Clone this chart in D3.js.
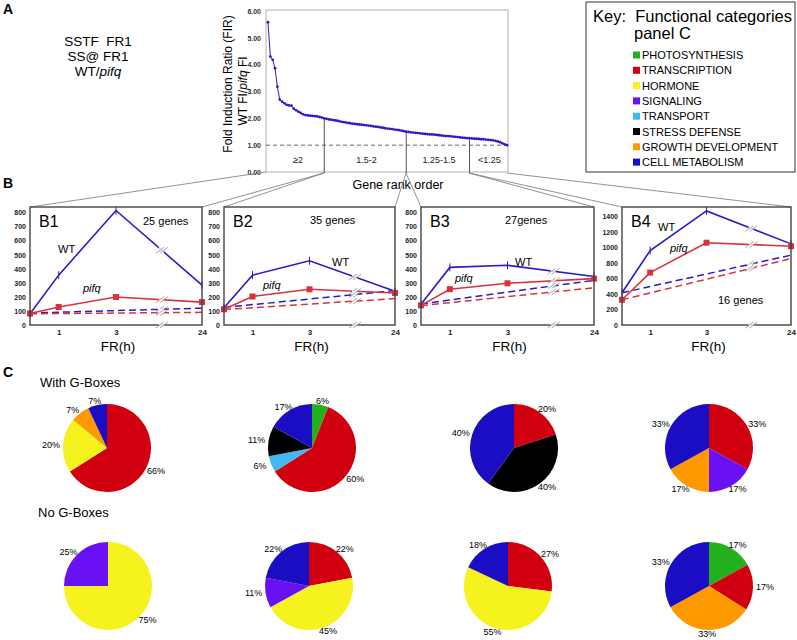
<!DOCTYPE html>
<html><head><meta charset="utf-8">
<script src="https://cdn.jsdelivr.net/npm/d3@7"></script>
<style>body{margin:0;background:#fff;} svg{font-family:Arial,"Liberation Sans",Helvetica,sans-serif;}</style>
</head><body><svg id="c" width="797" height="640"></svg>
<script>
// ---------- DATA ----------
// Panel A: fold induction ratio per gene (rank order), grouped by bin
const rankBins = ["≥2", "1.5-2", "1.25-1.5", "<1.25"];
const firBin1 = [5.58,4.30,4.18,3.87,3.18,2.70,2.62,2.56,2.50,2.48,2.47,2.36,2.30,2.25,2.20,2.15,2.12,2.11,2.10,2.09,2.08,2.07,2.05,2.03,2.00];
const firBin2 = [1.98,1.96,1.95,1.93,1.92,1.90,1.88,1.86,1.85,1.83,1.82,1.80,1.79,1.78,1.77,1.76,1.75,1.74,1.73,1.72,1.70,1.69,1.68,1.66,1.65,1.63,1.62,1.61,1.60,1.58,1.57,1.56,1.54,1.52,1.50];
const firBin3 = [1.49,1.48,1.47,1.46,1.45,1.44,1.43,1.42,1.41,1.40,1.40,1.39,1.38,1.37,1.36,1.35,1.34,1.34,1.33,1.32,1.31,1.30,1.29,1.28,1.27,1.26,1.26];
const firBin4 = [1.25,1.24,1.24,1.23,1.22,1.22,1.21,1.20,1.19,1.18,1.16,1.14,1.11,1.07,1.03,1.00];
const firTicks = [0,1,2,3,4,5,6];

// Panel B: expression over FR time
const timeLabels = ["0","1","3","24"];
const panelNames = ["B1","B2","B3","B4"];
const geneCounts = ["25 genes","35 genes","27genes","16 genes"];
const wtB1 = [80,355,815,284],  pifqB1 = [82,128,199,163],  wtDarkB1 = [85,120],  pifqDarkB1 = [80,90];
const wtB2 = [123,355,457,240], pifqB2 = [112,203,254,228], wtDarkB2 = [125,245], pifqDarkB2 = [110,188];
const wtB3 = [148,410,425,345], pifqB3 = [140,255,297,330], wtDarkB3 = [150,318], pifqDarkB3 = [138,265];
const wtB4 = [415,960,1470,1045], pifqB4 = [325,675,1060,1015], wtDarkB4 = [415,900], pifqDarkB4 = [325,855];
const yTicksSmall = [0,100,200,300,400,500,600,700,800];
const yTicksLarge = [0,200,400,600,800,1000,1200,1400];

// Panel C: functional categories
const categories = ["PHOTOSYNTHESIS","TRANSCRIPTION","HORMONE","SIGNALING","TRANSPORT","STRESS DEFENSE","GROWTH DEVELOPMENT","CELL METABOLISM"];
const withG1 = [["TRANSCRIPTION",66],["HORMONE",20],["GROWTH DEVELOPMENT",7],["CELL METABOLISM",7]];
const withG2 = [["PHOTOSYNTHESIS",6],["TRANSCRIPTION",60],["TRANSPORT",6],["STRESS DEFENSE",11],["CELL METABOLISM",17]];
const withG3 = [["TRANSCRIPTION",20],["STRESS DEFENSE",40],["CELL METABOLISM",40]];
const withG4 = [["TRANSCRIPTION",33],["SIGNALING",17],["GROWTH DEVELOPMENT",17],["CELL METABOLISM",33]];
const noG1 = [["HORMONE",75],["SIGNALING",25]];
const noG2 = [["TRANSCRIPTION",22],["HORMONE",45],["SIGNALING",11],["CELL METABOLISM",22]];
const noG3 = [["TRANSCRIPTION",27],["HORMONE",55],["CELL METABOLISM",18]];
const noG4 = [["PHOTOSYNTHESIS",17],["TRANSCRIPTION",17],["GROWTH DEVELOPMENT",33],["CELL METABOLISM",33]];

// ---------- STYLE ----------
const palette = ["#22b01e","#d00010","#f6f21e","#6a10f5","#40b8f0","#000000","#ff9900","#1a0dc4"];
const color = d3.scaleOrdinal().domain(categories).range(palette);
const BLUE = "#2a1bc6", RED = "#d8323f";

const svg = d3.select("#c");

// ---------- Panel letters & left text ----------
svg.append("text").attr("x",3).attr("y",14).attr("font-size",14).attr("font-weight","bold").text("A");
svg.append("text").attr("x",3).attr("y",188).attr("font-size",14).attr("font-weight","bold").text("B");
svg.append("text").attr("x",3).attr("y",377).attr("font-size",14).attr("font-weight","bold").text("C");

const lt = svg.append("g").attr("font-size",13.5).attr("text-anchor","middle");
lt.append("text").attr("x",98).attr("y",46).style("white-space","pre").text("SSTF  FR1");
lt.append("text").attr("x",98).attr("y",61).text("SS@ FR1");
const wtp = lt.append("text").attr("x",98).attr("y",76);
wtp.append("tspan").text("WT/");
wtp.append("tspan").attr("font-style","italic").text("pifq");

// ---------- Panel A chart ----------
const firValues = [].concat(firBin1, firBin2, firBin3, firBin4);
const bins = [firBin1, firBin2, firBin3, firBin4];
const ax = d3.scaleLinear().domain([1, firValues.length]).range([268, 507]);
const ay = d3.scaleLinear().domain([0, 6]).range([172, 11]);
const A = svg.append("g");
A.append("rect").attr("x",266).attr("y",10).attr("width",242).attr("height",162)
  .attr("fill","none").attr("stroke","#b0b0b0").attr("stroke-width",1);
const ayAxis = A.append("g").attr("transform","translate(263,0)")
  .call(d3.axisLeft(ay).tickValues(firTicks).tickFormat(d3.format(".2f")).tickSize(0).tickPadding(2));
ayAxis.select(".domain").remove();
ayAxis.selectAll("text").attr("font-size",7).attr("font-weight","bold").attr("fill","#333").attr("font-family","Arial");

A.append("line").attr("x1",266).attr("x2",508).attr("y1",ay(1)).attr("y2",ay(1))
  .attr("stroke","#555").attr("stroke-dasharray","4,3").attr("stroke-width",0.9);

// boundaries
let cum = 0; const bounds = [];
bins.forEach((b,i)=>{ const start = cum+1; cum += b.length; bounds.push({start, end:cum, label:rankBins[i]}); });
bounds.slice(0,3).forEach(b=>{
  A.append("line").attr("x1",ax(b.end)).attr("x2",ax(b.end)).attr("y1",ay(firValues[b.end-1])).attr("y2",173)
    .attr("stroke","#555").attr("stroke-width",1);
});
bounds.forEach(b=>{
  A.append("text").attr("x",(ax(b.start)+ax(b.end))/2 + (b.label==="≥2"?2:0)).attr("y",163).attr("text-anchor","middle")
    .attr("font-size",9).attr("fill","#222").text(b.label);
});
A.append("path").datum(firValues).attr("fill","none").attr("stroke",BLUE).attr("stroke-width",1)
  .attr("d", d3.line().x((d,i)=>ax(i+1)).y(d=>ay(d)));
A.selectAll("circle.p").data(firValues).join("circle").attr("class","p")
  .attr("cx",(d,i)=>ax(i+1)).attr("cy",d=>ay(d)).attr("r",1.4).attr("fill",BLUE);

const yt = A.append("g").attr("font-size",12).attr("text-anchor","middle");
yt.append("text").attr("transform","translate(232,84) rotate(-90)").text("Fold Induction Ratio (FIR)");
const yt2 = yt.append("text").attr("transform","translate(247,91) rotate(-90)");
yt2.append("tspan").text("WT FI/");
yt2.append("tspan").attr("font-style","italic").text("pifq");
yt2.append("tspan").text(" FI");
A.append("text").attr("x",398).attr("y",189).attr("text-anchor","middle").attr("font-size",12.5).text("Gene rank order");

// ---------- Key ----------
const K = svg.append("g");
K.append("rect").attr("x",586).attr("y",2).attr("width",209).attr("height",170).attr("fill","none").attr("stroke","#333").attr("stroke-width",1);
K.append("text").attr("x",593).attr("y",22).attr("font-size",16.5).style("white-space","pre").text("Key:  Functional categories");
K.append("text").attr("x",634).attr("y",39).attr("font-size",16.5).text("panel C");
categories.forEach((c,i)=>{
  const yy = 55 + i*15.3;
  K.append("rect").attr("x",633).attr("y",yy-3.5).attr("width",7).attr("height",7).attr("fill",color(c));
  K.append("text").attr("x",642).attr("y",yy+4).attr("font-size",11).text(c);
});

// ---------- Connector lines A -> B ----------
const conn = [[30,207,266,172],[202,207,324,173],[224,207,324,173],[395,207,406,173],[421,207,406,173],[594,207,469,173],[622,207,469,173],[791,207,507,173]];
svg.append("g").selectAll("line").data(conn).join("line")
  .attr("x1",d=>d[0]).attr("y1",d=>d[1]).attr("x2",d=>d[2]).attr("y2",d=>d[3])
  .attr("stroke","#777").attr("stroke-width",0.8);

// ---------- Panel B ----------
const timePos = [0,1,3,6];
const breakPos = 4.6;
const panelLayout = [
  {x0:30, x1:202, ymax:840, ticks:yTicksSmall, wt:wtB1, pq:pifqB1, wd:wtDarkB1, pd:pifqDarkB1, wtL:[58,253], pqL:[83,292], gL:[143,225]},
  {x0:224,x1:395, ymax:840, ticks:yTicksSmall, wt:wtB2, pq:pifqB2, wd:wtDarkB2, pd:pifqDarkB2, wtL:[332,266], pqL:[263,289], gL:[310,224]},
  {x0:421,x1:594, ymax:840, ticks:yTicksSmall, wt:wtB3, pq:pifqB3, wd:wtDarkB3, pd:pifqDarkB3, wtL:[515,266], pqL:[455,282], gL:[505,224]},
  {x0:622,x1:791, ymax:1520,ticks:yTicksLarge, wt:wtB4, pq:pifqB4, wd:wtDarkB4, pd:pifqDarkB4, wtL:[658,231], pqL:[670,252], gL:[718,304]}
];
function breakMark(g, cx, cy){
  g.append("rect").attr("x",cx-3).attr("y",cy-3.5).attr("width",5).attr("height",7).attr("fill","#fff").attr("opacity",0.85);
  [-2,2].forEach(o=>{
    g.append("line").attr("x1",cx+o-4).attr("y1",cy+3).attr("x2",cx+o+4).attr("y2",cy-3)
      .attr("stroke","#999").attr("stroke-width",0.9);
  });
}
panelLayout.forEach((p,pi)=>{
  const g = svg.append("g");
  const x = d3.scaleLinear().domain([0,6]).range([p.x0,p.x1]);
  const y = d3.scaleLinear().domain([0,p.ymax]).range([325,207]);
  // axis labels
  const ya = g.append("g").attr("transform",`translate(${p.x0-2},0)`)
    .call(d3.axisLeft(y).tickValues(p.ticks).tickFormat(d3.format("d")).tickSize(0).tickPadding(2));
  ya.select(".domain").remove();
  ya.selectAll("text").attr("font-size",7).attr("font-weight","bold").attr("fill","#222").attr("font-family","Arial");
  const xa = g.append("g").attr("transform","translate(0,325)")
    .call(d3.axisBottom(x).tickValues(timePos.slice(1)).tickFormat((d,i)=>timeLabels[i+1]).tickSize(0).tickPadding(4));
  xa.select(".domain").remove();
  xa.selectAll("text").attr("font-size",8).attr("font-weight","bold").attr("fill","#222").attr("font-family","Arial");
  g.append("text").attr("x",x(3)+2).attr("y",351).attr("text-anchor","middle").attr("font-size",13.5).text("FR(h)");

  // dashed dark controls
  const dl = d3.line().x(d=>x(d[0])).y(d=>y(d[1]));
  [[p.wd,BLUE],[p.pd,RED]].forEach(([v,c])=>{
    g.append("path").datum([[0,v[0]],[6,v[1]]]).attr("d",dl).attr("fill","none")
      .attr("stroke",c).attr("stroke-width",1.5).attr("stroke-dasharray","7,4");
  });
  // solid lines
  const sl = d3.line().x((d,i)=>x(timePos[i])).y(d=>y(d));
  g.append("path").datum(p.pq).attr("d",sl).attr("fill","none").attr("stroke",RED).attr("stroke-width",1.6);
  g.append("path").datum(p.wt).attr("d",sl).attr("fill","none").attr("stroke",BLUE).attr("stroke-width",1.6);
  g.selectAll("rect.sq").data(p.pq).join("rect").attr("class","sq")
    .attr("x",(d,i)=>x(timePos[i])-3).attr("y",d=>y(d)-3).attr("width",6).attr("height",6).attr("fill",RED);
  g.selectAll("line.tk").data(p.wt).join("line").attr("class","tk")
    .attr("x1",(d,i)=>x(timePos[i])).attr("x2",(d,i)=>x(timePos[i]))
    .attr("y1",d=>y(d)-4).attr("y2",d=>y(d)+4).attr("stroke",BLUE).attr("stroke-width",1);

  // break marks
  const f = (breakPos-3)/3;
  [p.wt, p.pq].forEach(v=> breakMark(g, x(breakPos), y(v[2] + (v[3]-v[2])*f)));
  [p.wd, p.pd].forEach(v=> breakMark(g, x(breakPos), y(v[0] + (v[1]-v[0])*breakPos/6)));
  // box
  g.append("rect").attr("x",p.x0).attr("y",207).attr("width",p.x1-p.x0).attr("height",118)
    .attr("fill","none").attr("stroke","#444").attr("stroke-width",1.4);
  breakMark(g, x(breakPos), 325);

  // labels
  g.append("text").attr("x",p.x0+9).attr("y",227).attr("font-size",16).text(panelNames[pi]);
  g.append("text").attr("x",p.gL[0]).attr("y",p.gL[1]).attr("font-size",11).text(geneCounts[pi]);
  g.append("text").attr("x",p.wtL[0]).attr("y",p.wtL[1]).attr("font-size",11).text("WT");
  g.append("text").attr("x",p.pqL[0]).attr("y",p.pqL[1]).attr("font-size",11).attr("font-style","italic").text("pifq");
});

// ---------- Panel C ----------
svg.append("text").attr("x",40).attr("y",387).attr("font-size",13).text("With G-Boxes");
svg.append("text").attr("x",38).attr("y",517).attr("font-size",13).text("No G-Boxes");

const pies = [
  {data:withG1, cx:107, cy:448}, {data:withG2, cx:312, cy:448}, {data:withG3, cx:514, cy:448}, {data:withG4, cx:709, cy:448},
  {data:noG1, cx:108, cy:586}, {data:noG2, cx:309, cy:586}, {data:noG3, cx:508, cy:586}, {data:noG4, cx:709, cy:586}
];
const R = 44;
const pieGen = d3.pie().sort(null).value(d=>d[1]);
const arc = d3.arc().innerRadius(0).outerRadius(R);
// label position: elliptical ring just outside the pie
const labelPos = d => { const a = (d.startAngle + d.endAngle)/2; return [Math.sin(a)*(R+12), -Math.cos(a)*(R+4)]; };
pies.forEach(pc=>{
  const g = svg.append("g").attr("transform",`translate(${pc.cx},${pc.cy})`);
  const arcs = pieGen(pc.data);
  g.selectAll("path").data(arcs).join("path").attr("d",arc).attr("fill",d=>color(d.data[0]));
  g.selectAll("text").data(arcs).join("text")
    .attr("transform",d=>`translate(${labelPos(d)})`)
    .attr("text-anchor","middle").attr("dy","0.33em").attr("font-size",9).text(d=>d.data[1]+"%");
});
</script></body></html>
